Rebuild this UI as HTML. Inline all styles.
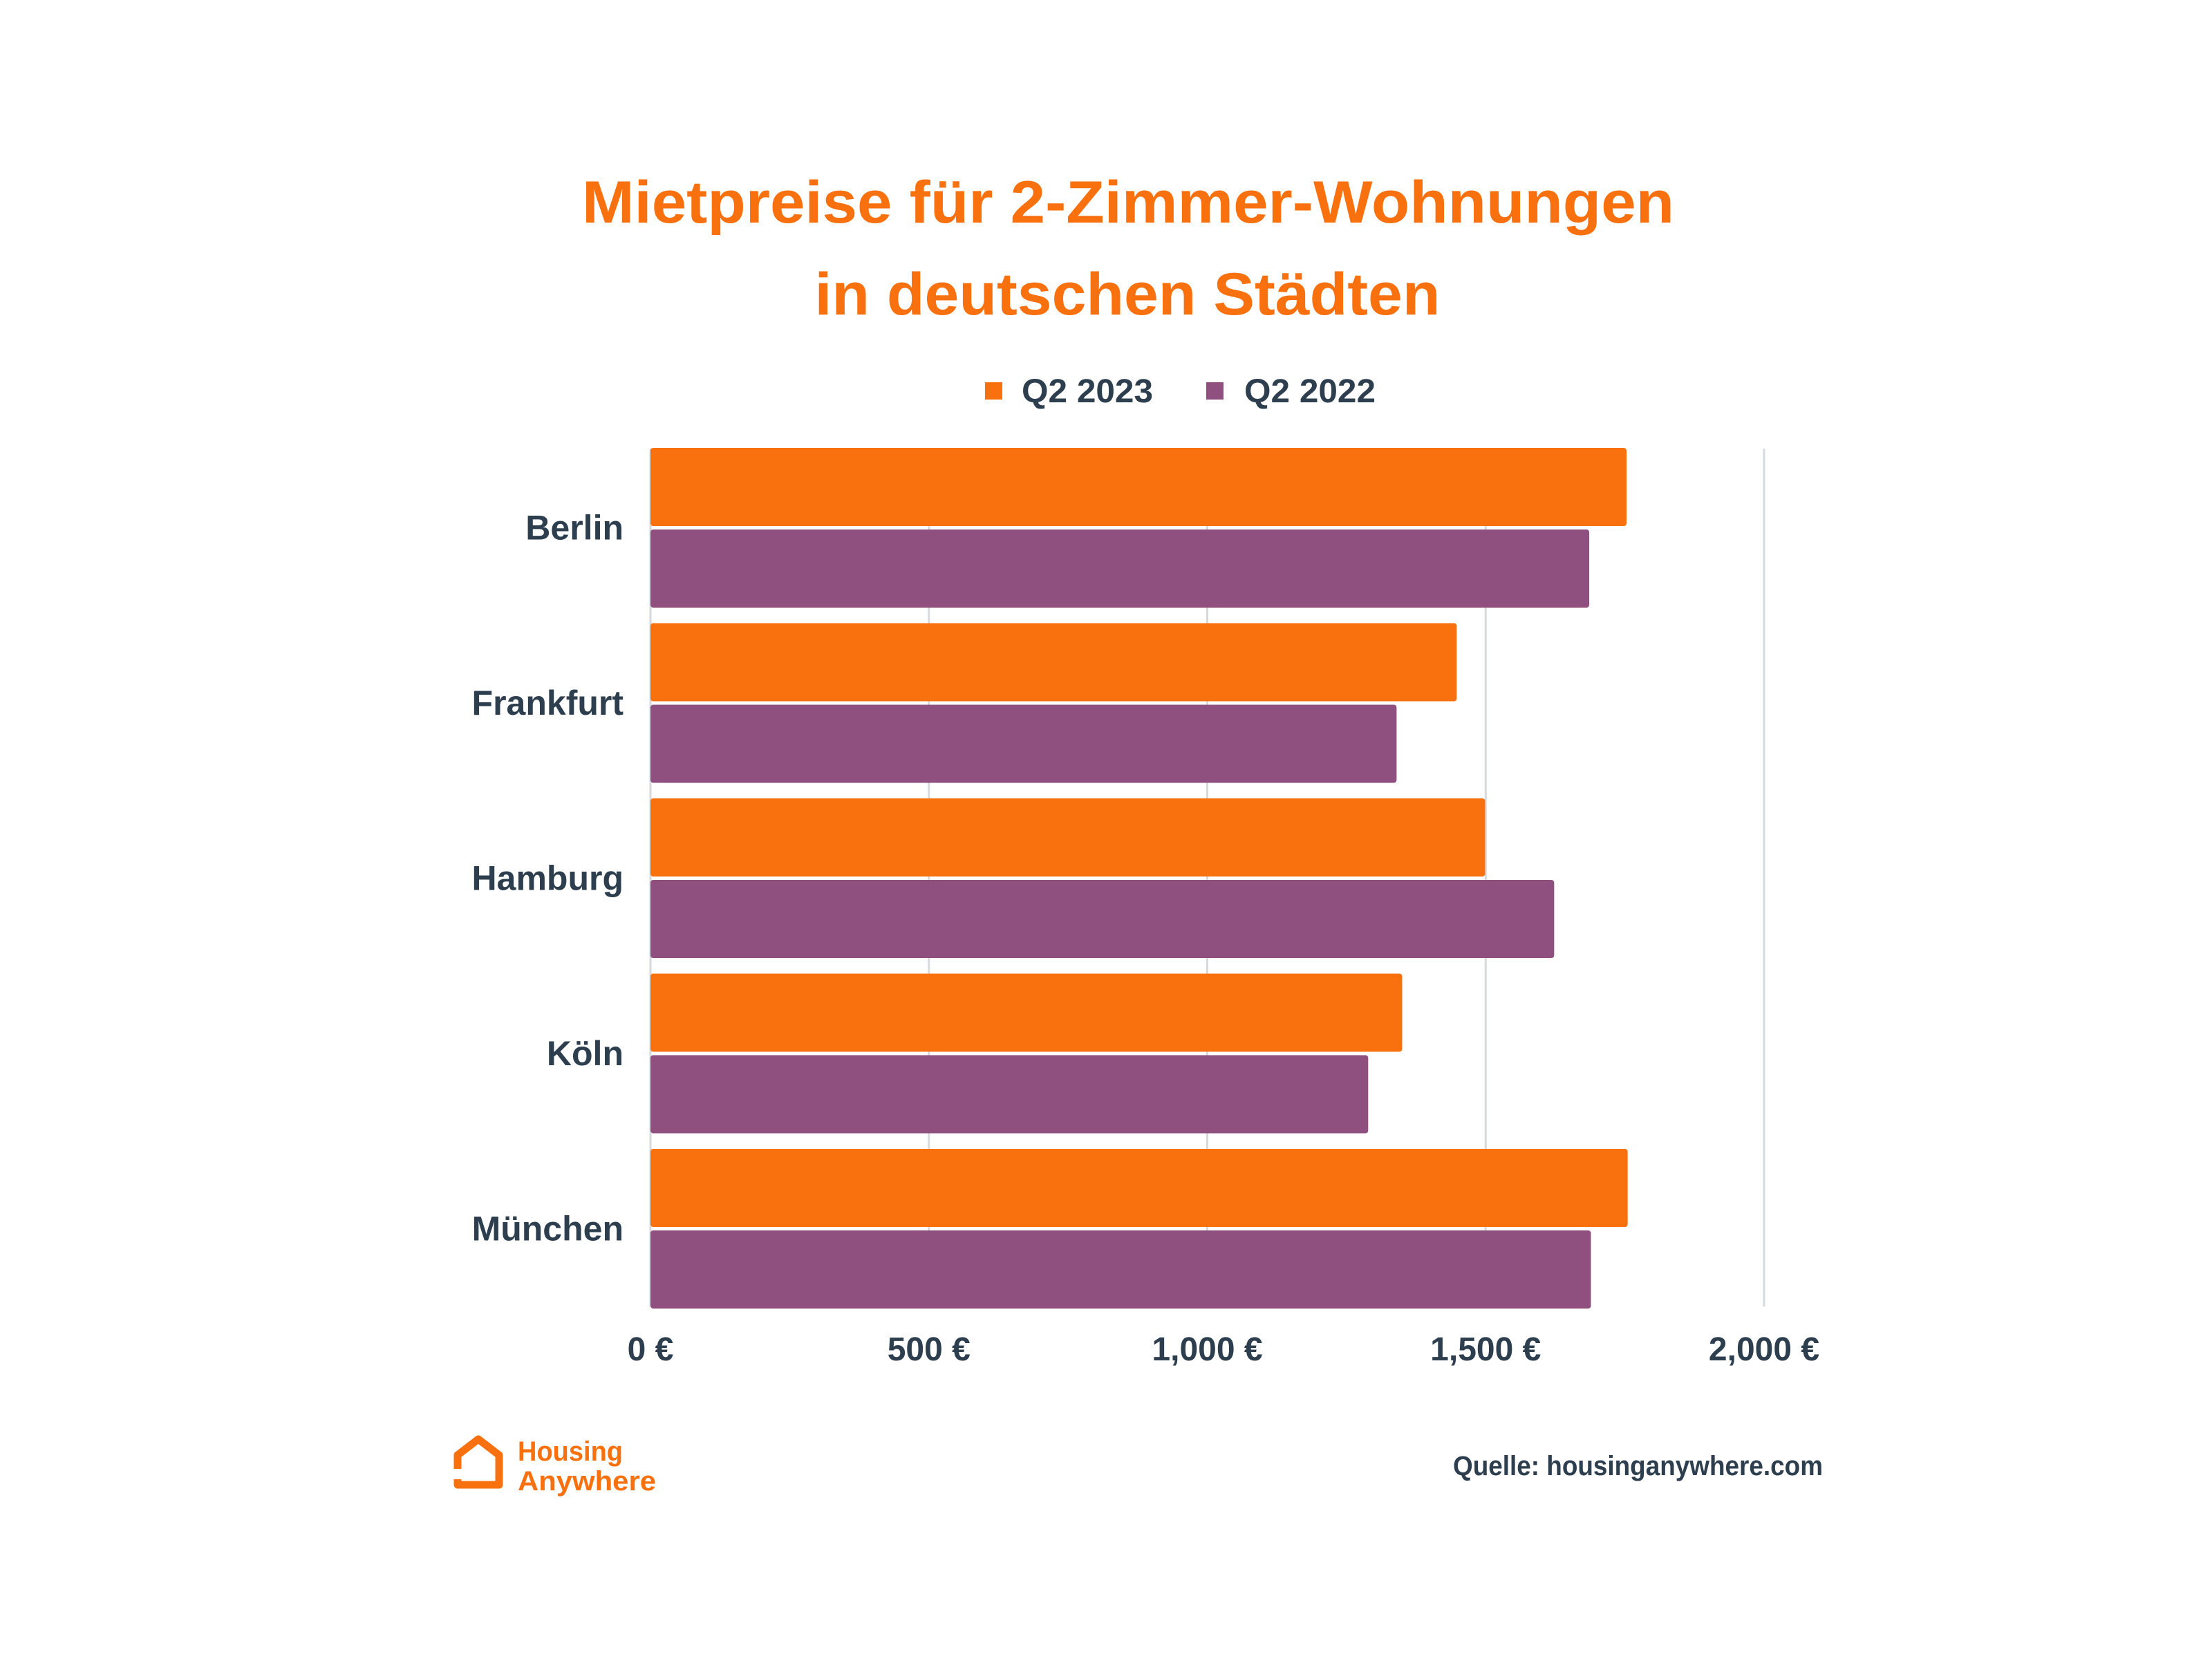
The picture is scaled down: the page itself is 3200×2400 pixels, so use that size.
<!DOCTYPE html>
<html><head><meta charset="utf-8"><style>
html,body{margin:0;padding:0;background:#fff}
svg{display:block;font-family:"Liberation Sans",sans-serif;font-weight:bold}
</style></head><body>
<svg id="chart" width="3200" height="2400" viewBox="0 0 3200 2400">
<text x="1632" y="322" text-anchor="middle" font-size="86" fill="#f9710e" textLength="1580" lengthAdjust="spacingAndGlyphs">Mietpreise für 2-Zimmer-Wohnungen</text>
<text x="1631" y="455" text-anchor="middle" font-size="86" fill="#f9710e" textLength="905" lengthAdjust="spacingAndGlyphs">in deutschen Städten</text>
<g>
<rect x="1425" y="553" width="25" height="25" fill="#f9710e"/>
<text x="1478" y="582" font-size="48" fill="#2d3e4e" textLength="190" lengthAdjust="spacingAndGlyphs">Q2 2023</text>
<rect x="1745" y="553" width="25" height="25" fill="#8f5080"/>
<text x="1800" y="582" font-size="48" fill="#2d3e4e" textLength="190" lengthAdjust="spacingAndGlyphs">Q2 2022</text>
</g>
<g id="grid"></g><g id="bars"></g><g id="labels"></g>
<g>
<path d="M662 2125 L662 2105 L692 2082 L722 2105 L722 2148 L662 2148 L662 2140" fill="none" stroke="#f9710e" stroke-width="11" stroke-linejoin="round"/>
<text x="749" y="2113" font-size="40" fill="#f9710e" textLength="152" lengthAdjust="spacingAndGlyphs">Housing</text>
<text x="749" y="2156" font-size="40" fill="#f9710e" textLength="200" lengthAdjust="spacingAndGlyphs">Anywhere</text>
</g>
<text x="2637" y="2134" text-anchor="end" font-size="40" fill="#2d3e4e" textLength="535" lengthAdjust="spacingAndGlyphs">Quelle: housinganywhere.com</text>
</svg>
<script>
const cities = ["Berlin","Frankfurt","Hamburg","Köln","München"];
const values2023 = [1753,1448,1499,1350,1755];
const values2022 = [1686,1340,1623,1289,1689];
const ticks = [0,500,1000,1500,2000];
const tickLabels = ["0 €","500 €","1,000 €","1,500 €","2,000 €"];
const NS="http://www.w3.org/2000/svg";
const x0=941, x1=2552, yTop=648, pitch=253.5, barH=113, gap=5;
function xs(v){return x0+(v/2000)*(x1-x0);}
function mk(tag,attrs,parent){const e=document.createElementNS(NS,tag);for(const k in attrs)e.setAttribute(k,attrs[k]);parent.appendChild(e);return e;}
const grid=document.getElementById('grid'),bars=document.getElementById('bars'),labels=document.getElementById('labels');
ticks.forEach((t,i)=>{
  const l=mk('line',{x1:xs(t),x2:xs(t),y1:649,y2:1890,stroke:'#d6d9dd','stroke-width':3},grid);
  
  
  const tx=mk('text',{x:xs(t),y:1968,'text-anchor':'middle','font-size':48,fill:'#2d3e4e'},labels);
  tx.textContent=tickLabels[i];
  
  
});
cities.forEach((c,i)=>{
  const y=yTop+i*pitch;
  const b1=mk('rect',{x:x0,y:y,width:xs(values2023[i])-x0,height:barH,rx:4,fill:'#f9710e'},bars);
  
  
  const b2=mk('rect',{x:x0,y:y+barH+gap,width:xs(values2022[i])-x0,height:barH,rx:4,fill:'#8f5080'},bars);
  
  
  const t=mk('text',{x:902,y:y+barH+gap/2+17,'text-anchor':'end','font-size':50,fill:'#2d3e4e'},labels);
  t.textContent=c;
  
  
});
</script>
</body></html>
